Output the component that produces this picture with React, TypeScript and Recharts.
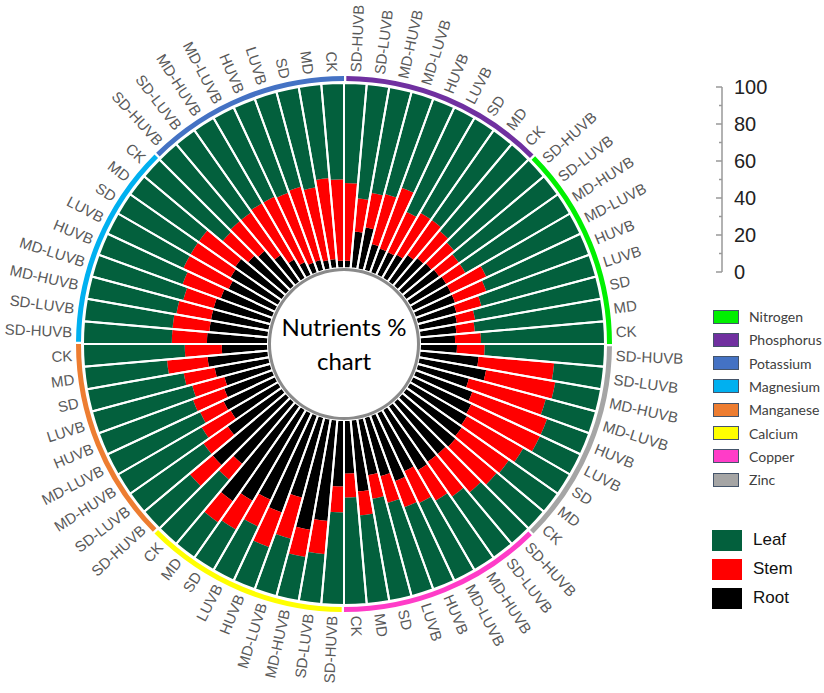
import React from 'react';
import {
  RadialBarChart,
  RadialBar,
  PolarAngleAxis,
  PolarRadiusAxis,
  PieChart,
  Pie,
  Cell,
  LineChart,
  Line,
  XAxis,
  YAxis,
} from 'recharts';

const treatments = ['CK', 'MD', 'SD', 'LUVB', 'HUVB', 'MD-LUVB', 'MD-HUVB', 'SD-LUVB', 'SD-HUVB'];
const nutrients = ['Nitrogen', 'Phosphorus', 'Potassium', 'Magnesium', 'Manganese', 'Calcium', 'Copper', 'Zinc'];
const nutrientColors = ['#00F000', '#7030A0', '#4472C4', '#00B0F0', '#ED7D31', '#FFFF00', '#FF3CC8', '#A5A5A5'];

// root and stem share (%) per nutrient, in treatment order; leaf is the rest
const rootN = [20, 19, 20, 21, 22, 23, 23, 23, 22];
const stemN = [15, 14, 10, 10, 14, 18, 21, 12, 13];
const rootP = [21, 20, 18, 15, 14, 14, 15, 23, 20];
const stemP = [16, 19, 23, 26, 24, 35, 28, 19, 18];
const rootK = [4, 4, 5, 5, 6, 6, 8, 12, 18];
const stemK = [42, 44, 44, 40, 41, 40, 39, 35, 28];
const rootMg = [25, 27, 31, 30, 28, 30, 32, 32, 32];
const stemMg = [21, 18, 24, 25, 27, 22, 17, 19, 20];
const rootMn = [33, 25, 33, 30, 26, 28, 31, 30, 36];
const stemMn = [19, 20, 22, 17, 18, 18, 14, 18, 16];
const rootCa = [52, 44, 63, 57, 52, 56, 45, 61, 55];
const stemCa = [16, 11, 14, 18, 16, 20, 23, 15, 18];
const rootCu = [36, 29, 39, 31, 33, 38, 35, 38, 37];
const stemCu = [14, 13, 13, 13, 15, 15, 19, 19, 23];
const rootZn = [37, 38, 37, 36, 35, 33, 29, 37, 32];
const stemZn = [27, 29, 31, 35, 41, 43, 43, 38, 41];

const scaleTicks = [0, 10, 20, 30, 40, 50, 60, 70, 80, 90, 100];
const scaleLabels = [0, 20, 40, 60, 80, 100];

const layers = [
  { name: 'Leaf', color: '#03603D' },
  { name: 'Stem', color: '#FF0000' },
  { name: 'Root', color: '#000000' },
];

const rootSets = [rootN, rootP, rootK, rootMg, rootMn, rootCa, rootCu, rootZn];
const stemSets = [stemN, stemP, stemK, stemMg, stemMn, stemCa, stemCu, stemZn];

const chartData = nutrients.flatMap((n, ni) =>
  treatments.map((t, ti) => ({
    key: `${n}|${t}`,
    root: rootSets[ni][ti],
    stem: stemSets[ni][ti],
    leaf: 100 - rootSets[ni][ti] - stemSets[ni][ti],
  }))
);

const ringData = nutrients.map((n) => ({ name: n, count: treatments.length }));
const scaleData = scaleTicks.map((v) => ({ v }));

const CX = 344;
const CY = 344;
const INNER = 76;
const OUTER = 261;

// labels sit on the middle of each bar's angular band
const AngleTick = (props: any) => {
  const { x, y, payload } = props;
  const idx = chartData.findIndex((d) => d.key === payload.value);
  const angle = ((idx + 0.5) * 360) / chartData.length;
  const r = Math.hypot(x - CX, y - CY);
  const tx = CX + r * Math.cos((angle * Math.PI) / 180);
  const ty = CY - r * Math.sin((angle * Math.PI) / 180);
  const left = angle > 90 && angle < 270;
  const rot = left ? 180 - angle : -angle;
  const label = String(payload.value).split('|')[1];
  return (
    <text
      x={tx}
      y={ty}
      dy="0.35em"
      transform={`rotate(${rot}, ${tx}, ${ty})`}
      textAnchor={left ? 'end' : 'start'}
      fill="#595959"
      fontSize={15}
      fontFamily="'Liberation Sans', Arial, sans-serif"
    >
      {label}
    </text>
  );
};

const ScaleTick = (props: any) => {
  const { x, y, payload } = props;
  const major = scaleLabels.includes(payload.value);
  return (
    <g>
      <line x1={x - (major ? 6 : 3)} x2={x} y1={y} y2={y} stroke="#999" strokeWidth={1.5} />
      {major && (
        <text x={x + 12} y={y} dy="0.36em" fontSize={20} fill="#222" fontFamily="'Liberation Sans', Arial, sans-serif">
          {payload.value}
        </text>
      )}
    </g>
  );
};

const App = () => {
  return (
    <div
      style={{
        position: 'absolute',
        left: 0,
        top: 0,
        width: 824,
        height: 693,
        background: '#fff',
        fontFamily: "'Liberation Sans', Arial, sans-serif",
      }}
    >
      <div style={{ position: 'absolute', left: 0, top: 0 }}>
        <RadialBarChart
          width={690}
          height={690}
          cx={CX}
          cy={CY}
          innerRadius={INNER}
          outerRadius={OUTER}
          data={chartData}
          layout="centric"
          startAngle={0}
          endAngle={360}
          barCategoryGap={0}
          margin={{ top: 0, right: 0, bottom: 0, left: 0 }}
        >
          <PolarAngleAxis
            dataKey="key"
            type="category"
            axisLine={false}
            tickLine={false}
            tickSize={11}
            tick={(p: any) => <AngleTick {...p} />}
          />
          <PolarRadiusAxis type="number" domain={[0, 100]} tick={false} axisLine={false} />
          <RadialBar dataKey="root" stackId="a" fill="#000000" isAnimationActive={false} />
          <RadialBar dataKey="stem" stackId="a" fill="#FF0000" isAnimationActive={false} />
          <RadialBar dataKey="leaf" stackId="a" fill="#03603D" isAnimationActive={false} />
        </RadialBarChart>
      </div>

      {/* separators, nutrient ring and centre disc */}
      <div style={{ position: 'absolute', left: 0, top: 0 }}>
        <PieChart width={690} height={690} margin={{ top: 0, right: 0, bottom: 0, left: 0 }}>
          <Pie
            data={chartData}
            dataKey={() => 1}
            cx={CX}
            cy={CY}
            innerRadius={INNER}
            outerRadius={OUTER}
            startAngle={0}
            endAngle={360}
            fill="none"
            stroke="#fff"
            strokeWidth={2}
            isAnimationActive={false}
          />
          <Pie
            data={ringData}
            dataKey="count"
            cx={CX}
            cy={CY}
            innerRadius={263}
            outerRadius={268}
            startAngle={0}
            endAngle={360}
            paddingAngle={0.5}
            stroke="none"
            isAnimationActive={false}
          >
            {ringData.map((d, i) => (
              <Cell key={d.name} fill={nutrientColors[i]} />
            ))}
          </Pie>
          <Pie
            data={[{ v: 1 }]}
            dataKey="v"
            cx={CX}
            cy={CY}
            innerRadius={0}
            outerRadius={INNER}
            startAngle={0}
            endAngle={360}
            fill="#fff"
            stroke="none"
            isAnimationActive={false}
          />
          <Pie
            data={[{ v: 1 }]}
            dataKey="v"
            cx={CX}
            cy={CY}
            innerRadius={INNER - 3}
            outerRadius={INNER}
            startAngle={0}
            endAngle={360}
            fill="#8a8a8a"
            stroke="none"
            isAnimationActive={false}
          />
        </PieChart>
      </div>

      <div
        style={{
          position: 'absolute',
          left: CX - 70,
          top: CY - 34,
          width: 140,
          textAlign: 'center',
          fontFamily: 'Lato, sans-serif',
          fontSize: 24,
          lineHeight: '34px',
          color: '#000',
        }}
      >
        Nutrients %
        <br />
        chart
      </div>

      {/* 0-100 scale */}
      <div style={{ position: 'absolute', left: 680, top: 70 }}>
        <LineChart width={120} height={220} data={scaleData} margin={{ top: 17, right: 0, bottom: 18, left: 0 }}>
          <XAxis dataKey="v" hide />
          <YAxis
            orientation="right"
            type="number"
            domain={[0, 100]}
            ticks={scaleTicks}
            interval={0}
            width={78}
            tickSize={0}
            tickMargin={0}
            tickLine={false}
            axisLine={{ stroke: '#999', strokeWidth: 1.5 }}
            tick={(p: any) => <ScaleTick {...p} />}
          />
          <Line dataKey="v" stroke="none" dot={false} activeDot={false} isAnimationActive={false} />
        </LineChart>
      </div>

      {nutrients.map((n, i) => (
        <div
          key={n}
          style={{ position: 'absolute', left: 713, top: 308.5 + i * 23.3, height: 16, display: 'flex', alignItems: 'center' }}
        >
          <div
            style={{
              width: 26,
              height: 14,
              background: nutrientColors[i],
              border: '1px solid #44546A',
              boxSizing: 'border-box',
            }}
          />
          <span style={{ marginLeft: 10, fontSize: 14, fontFamily: 'Lato, sans-serif', color: '#404040' }}>{n}</span>
        </div>
      ))}

      {layers.map((l, i) => (
        <div
          key={l.name}
          style={{ position: 'absolute', left: 712, top: 529 + i * 29, height: 22, display: 'flex', alignItems: 'center' }}
        >
          <div style={{ width: 30, height: 21, background: l.color }} />
          <span style={{ marginLeft: 11, fontSize: 17, color: '#111' }}>{l.name}</span>
        </div>
      ))}
    </div>
  );
};

export default App;
